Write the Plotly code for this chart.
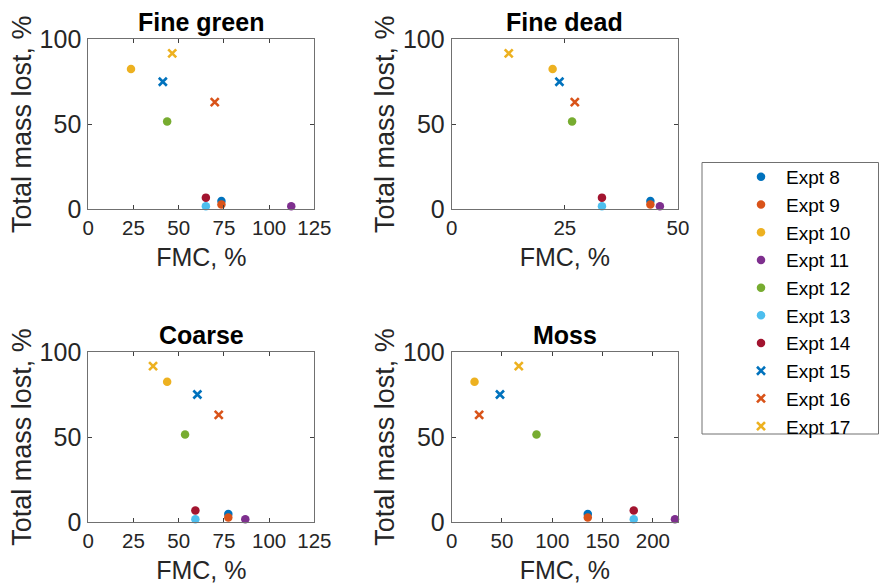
import plotly.graph_objects as go

W, H = 879, 585

experiments = ["Expt 8", "Expt 9", "Expt 10", "Expt 11", "Expt 12",
               "Expt 13", "Expt 14", "Expt 15", "Expt 16", "Expt 17"]
colors = ["#0072BD", "#D95319", "#EDB120", "#7E2F8E", "#77AC30",
          "#4DBEEE", "#A2142F", "#0072BD", "#D95319", "#EDB120"]
symbols = ["circle"] * 7 + ["x-thin"] * 3

# Total mass lost (%) per experiment (same in every panel)
mass_lost = [4.7, 2.6, 82.5, 1.6, 51.5, 1.6, 6.7, 75.0, 63.0, 91.7]

# FMC (%) per experiment, one list per fuel type
fmc_fine_green = [73.6, 73.6, 23.6, 112.2, 43.6, 65.0, 65.0, 41.2, 69.9, 46.4]
fmc_fine_dead = [43.9, 43.9, 22.3, 46.0, 26.6, 33.2, 33.2, 23.8, 27.2, 12.6]
fmc_coarse = [77.4, 77.4, 43.6, 86.8, 53.5, 59.2, 59.2, 60.3, 72.1, 35.8]
fmc_moss = [135.3, 135.3, 22.7, 222.0, 84.3, 181.0, 181.0, 48.0, 27.3, 66.7]

panel_titles = ["Fine green", "Fine dead", "Coarse", "Moss"]
panel_fmc = [fmc_fine_green, fmc_fine_dead, fmc_coarse, fmc_moss]
x_ranges = [[0, 125], [0, 50], [0, 125], [0, 225]]
x_ticks = [[0, 25, 50, 75, 100, 125], [0, 25, 50], [0, 25, 50, 75, 100, 125],
           [0, 50, 100, 150, 200]]
y_ticks = [0, 50, 100]

FONT = "Arial, Liberation Sans, Helvetica, sans-serif"

# panel boxes in pixels: (left, right, top, bottom)
boxes = [(88.3, 314.4, 39.3, 209.0), (451.7, 678.0, 39.3, 209.0),
         (88.3, 314.4, 352.0, 522.0), (451.7, 678.0, 352.0, 522.0)]

fig = go.Figure()
for p, (fmc, title) in enumerate(zip(panel_fmc, panel_titles)):
    ax = "" if p == 0 else str(p + 1)
    for i, name in enumerate(experiments):
        fig.add_trace(go.Scatter(
            x=[fmc[i]], y=[mass_lost[i]], mode="markers", name=name,
            showlegend=(p == 0),
            marker=dict(color=colors[i], symbol=symbols[i],
                        size=8.5 if symbols[i] == "circle" else 8,
                        line=dict(color=colors[i], width=2.6 if symbols[i] != "circle" else 0)),
            xaxis="x" + ax, yaxis="y" + ax, cliponaxis=False))
    l, r, t, b = boxes[p]
    axstyle = dict(showline=True, linecolor="#707070", linewidth=1, mirror="ticks",
                   ticks="inside", ticklen=4, tickcolor="#404040", showgrid=False,
                   zeroline=False)
    fig.layout["xaxis" + ax] = dict(
        domain=[l / W, r / W], range=x_ranges[p], tickvals=x_ticks[p],
        anchor="y" + ax, tickfont=dict(family=FONT, size=20.5, color="#262626"),
        title=dict(text="FMC, %", standoff=10,
                   font=dict(family=FONT, size=25, color="#262626")),
        **axstyle)
    fig.layout["yaxis" + ax] = dict(
        domain=[1 - b / H, 1 - t / H], range=[0, 100], tickvals=y_ticks,
        anchor="x" + ax, ticklabelstandoff=1,
        tickfont=dict(family=FONT, size=25, color="#262626"),
        title=dict(text="Total mass lost, %", standoff=0,
                   font=dict(family=FONT, size=27, color="#262626")),
        **axstyle)
    fig.add_annotation(text="<b>" + title + "</b>", x=(l + r) / 2 / W, y=1 - (t - 1) / H,
                       xref="paper", yref="paper", xanchor="center", yanchor="bottom",
                       showarrow=False, font=dict(family=FONT, size=25, color="black"))

fig.add_shape(type="rect", xref="paper", yref="paper",
              x0=702 / W, x1=878.5 / W, y0=1 - 434 / H, y1=1 - 162.5 / H,
              line=dict(color="#707070", width=1), fillcolor="white", layer="below")

fig.update_layout(
    width=W, height=H, margin=dict(l=0, r=0, t=0, b=0, autoexpand=False),
    paper_bgcolor="white", plot_bgcolor="white",
    showlegend=True,
    legend=dict(x=736 / W, y=1 - 158 / H, xanchor="left", yanchor="top",
                font=dict(family=FONT, size=19, color="black"),
                bgcolor="rgba(0,0,0,0)", borderwidth=0, itemwidth=40,
                tracegroupgap=0),
)

fig.write_html("out.html")
